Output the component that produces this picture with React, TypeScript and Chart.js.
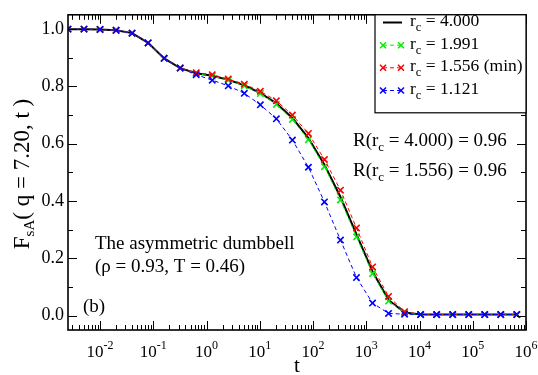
import React, { useEffect, useRef } from "react";
import { Chart, registerables } from "chart.js";

Chart.register(...registerables);

// Time grid (each step doubles t)
const times = [
  0.0025, 0.005, 0.01, 0.02, 0.04, 0.08, 0.16, 0.32, 0.64, 1.28, 2.56, 5.12,
  10.24, 20.48, 40.96, 81.92, 163.84, 327.68, 655.36, 1310.72, 2621.44,
  5242.88, 10485.76, 20971.52, 41943.04, 83886.08, 167772.16, 335544.32,
  671088.64,
];

// F_sA(q, t) for each cut-off radius r_c
const fsRc4000 = [
  1.0, 1.0, 0.999, 0.996, 0.986, 0.952, 0.898, 0.864, 0.846, 0.837, 0.823,
  0.804, 0.777, 0.741, 0.69, 0.62, 0.527, 0.414, 0.284, 0.154, 0.055, 0.011,
  0.004, 0.004, 0.004, 0.004, 0.004, 0.004, 0.004,
];
const fsRc1991 = [
  1.0, 1.0, 0.999, 0.996, 0.986, 0.952, 0.898, 0.864, 0.845, 0.836, 0.822,
  0.802, 0.775, 0.737, 0.685, 0.614, 0.52, 0.404, 0.275, 0.147, 0.051, 0.01,
  0.004, 0.004, 0.004, 0.004, 0.004, 0.004, 0.004,
];
const fsRc1556 = [
  1.0, 1.0, 0.999, 0.996, 0.986, 0.952, 0.898, 0.864, 0.848, 0.841, 0.826,
  0.808, 0.783, 0.75, 0.7, 0.636, 0.545, 0.438, 0.306, 0.17, 0.067, 0.014,
  0.004, 0.004, 0.004, 0.004, 0.004, 0.004, 0.004,
];
const fsRc1121 = [
  1.0, 1.0, 0.999, 0.996, 0.986, 0.952, 0.898, 0.864, 0.841, 0.822, 0.802,
  0.776, 0.736, 0.687, 0.613, 0.518, 0.397, 0.264, 0.133, 0.044, 0.008,
  0.005, 0.004, 0.004, 0.004, 0.004, 0.004, 0.004, 0.004,
];

const seriesLabels = ["4.000", "1.991", "1.556 (min)", "1.121"];
const seriesColors = ["#000000", "#00ee00", "#ff0000", "#0000ff"];

const yTicks = [0, 0.2, 0.4, 0.6, 0.8, 1.0];
const yMinorTicks = [0.1, 0.3, 0.5, 0.7, 0.9];
const xDecades = [-2, -1, 0, 1, 2, 3, 4, 5, 6];

const SERIF = "'Liberation Serif', 'Times New Roman', serif";

type Part = { text: string; size: number; dy?: number };

function richWidth(ctx: CanvasRenderingContext2D, parts: Part[]) {
  let w = 0;
  for (const p of parts) {
    ctx.font = `${p.size}px ${SERIF}`;
    w += ctx.measureText(p.text).width;
  }
  return w;
}

function drawRich(
  ctx: CanvasRenderingContext2D,
  parts: Part[],
  x: number,
  y: number,
  align: "left" | "center" = "left"
) {
  let cx = align === "center" ? x - richWidth(ctx, parts) / 2 : x;
  ctx.textAlign = "left";
  ctx.textBaseline = "alphabetic";
  for (const p of parts) {
    ctx.font = `${p.size}px ${SERIF}`;
    ctx.fillText(p.text, cx, y + (p.dy || 0));
    cx += ctx.measureText(p.text).width;
  }
}

function drawCross(ctx: CanvasRenderingContext2D, x: number, y: number, r: number) {
  ctx.beginPath();
  ctx.moveTo(x - r, y - r);
  ctx.lineTo(x + r, y + r);
  ctx.moveTo(x + r, y - r);
  ctx.lineTo(x - r, y + r);
  ctx.stroke();
}

const decorPlugin = {
  id: "decor",
  afterDraw(chart: any) {
    const ctx: CanvasRenderingContext2D = chart.ctx;
    const { left, right, top, bottom } = chart.chartArea;
    const xs = chart.scales.x;
    const ys = chart.scales.y;
    ctx.save();
    ctx.fillStyle = "#000";
    ctx.strokeStyle = "#000";

    // frame
    ctx.lineWidth = 1.6;
    ctx.setLineDash([]);
    ctx.strokeRect(left, top, right - left, bottom - top);

    // ticks on all four sides, pointing inward
    ctx.lineWidth = 1;
    const major = 9;
    const minor = 5;
    ctx.beginPath();
    for (const v of yTicks) {
      const py = Math.round(ys.getPixelForValue(v)) + 0.5;
      ctx.moveTo(left, py);
      ctx.lineTo(left + major, py);
      ctx.moveTo(right, py);
      ctx.lineTo(right - major, py);
    }
    for (const v of yMinorTicks) {
      const py = Math.round(ys.getPixelForValue(v)) + 0.5;
      ctx.moveTo(left, py);
      ctx.lineTo(left + minor, py);
      ctx.moveTo(right, py);
      ctx.lineTo(right - minor, py);
    }
    for (let d = -3; d <= 6; d++) {
      for (let k = 1; k <= 9; k++) {
        const v = k * Math.pow(10, d);
        if (v < xs.min * 0.999 || v > xs.max * 1.001) continue;
        const px = Math.round(xs.getPixelForValue(v)) + 0.5;
        const len = k === 1 ? major : minor;
        ctx.moveTo(px, bottom);
        ctx.lineTo(px, bottom - len);
        ctx.moveTo(px, top);
        ctx.lineTo(px, top + len);
      }
    }
    ctx.stroke();

    // x tick labels: powers of ten
    for (const d of xDecades) {
      const px = xs.getPixelForValue(Math.pow(10, d));
      drawRich(
        ctx,
        [
          { text: "10", size: 17 },
          { text: d < 0 ? "-" + Math.abs(d) : String(d), size: 12, dy: -8 },
        ],
        px,
        357,
        "center"
      );
    }

    // axis titles
    ctx.font = `21px ${SERIF}`;
    ctx.textAlign = "center";
    ctx.fillText("t", (left + right) / 2, 372);

    ctx.save();
    ctx.translate(29, 174);
    ctx.rotate(-Math.PI / 2);
    drawRich(
      ctx,
      [
        { text: "F", size: 23 },
        { text: "sA", size: 15, dy: 5 },
        { text: "( q = 7.20, t )", size: 23 },
      ],
      0,
      0,
      "center"
    );
    ctx.restore();

    // legend
    const lx = 375;
    const ly = top;
    const lw = right - lx;
    const lh = 98;
    ctx.fillStyle = "#fff";
    ctx.fillRect(lx, ly, lw, lh);
    ctx.lineWidth = 1.2;
    ctx.strokeRect(lx, ly, lw, lh);
    const rowBase = [26, 48.7, 71.3, 94];
    seriesLabels.forEach((lab, i) => {
      const base = rowBase[i];
      const cy = base - 3.5;
      ctx.strokeStyle = seriesColors[i];
      ctx.fillStyle = "#000";
      if (i === 0) {
        ctx.lineWidth = 2;
        ctx.setLineDash([]);
        ctx.beginPath();
        ctx.moveTo(383, cy);
        ctx.lineTo(402, cy);
        ctx.stroke();
      } else {
        ctx.lineWidth = 1;
        ctx.setLineDash([4, 3]);
        ctx.beginPath();
        ctx.moveTo(383, cy);
        ctx.lineTo(401, cy);
        ctx.stroke();
        ctx.setLineDash([]);
        ctx.lineWidth = 1.5;
        drawCross(ctx, 383, cy, 3);
        drawCross(ctx, 401, cy, 3);
      }
      ctx.fillStyle = "#000";
      drawRich(
        ctx,
        [
          { text: "r", size: 17.5 },
          { text: "c", size: 12.5, dy: 5 },
          { text: " = " + lab, size: 17.5 },
        ],
        410,
        base
      );
    });

    // annotations
    ctx.fillStyle = "#000";
    drawRich(
      ctx,
      [
        { text: "R(r", size: 19 },
        { text: "c", size: 13, dy: 5 },
        { text: " = 4.000) = 0.96", size: 19 },
      ],
      353,
      146
    );
    drawRich(
      ctx,
      [
        { text: "R(r", size: 19 },
        { text: "c", size: 13, dy: 5 },
        { text: " = 1.556) = 0.96", size: 19 },
      ],
      353,
      176
    );
    drawRich(ctx, [{ text: "The asymmetric dumbbell", size: 19 }], 95, 249);
    drawRich(ctx, [{ text: "(\u03c1 = 0.93, T = 0.46)", size: 19 }], 95, 272);
    drawRich(ctx, [{ text: "(b)", size: 19 }], 83, 312);

    ctx.restore();
  },
};

function toPoints(vals: number[]) {
  return times.map((t, i) => ({ x: t, y: vals[i] }));
}

export default function App() {
  const canvasRef = useRef<HTMLCanvasElement | null>(null);

  useEffect(() => {
    const canvas = canvasRef.current;
    if (!canvas) return;
    const dashed = (color: string, order: number, vals: number[]) => ({
      data: toPoints(vals),
      borderColor: color,
      backgroundColor: color,
      borderWidth: 1,
      borderDash: [4, 3],
      pointStyle: "crossRot",
      pointRadius: 4.5,
      pointBorderWidth: 1.6,
      pointBorderColor: color,
      fill: false,
      tension: 0,
      order,
    });
    const chart = new Chart(canvas, {
      type: "line",
      data: {
        datasets: [
          {
            data: toPoints(fsRc4000),
            borderColor: seriesColors[0],
            borderWidth: 2,
            pointRadius: 0,
            fill: false,
            tension: 0,
            order: 3,
          },
          dashed(seriesColors[1], 2, fsRc1991),
          dashed(seriesColors[2], 1, fsRc1556),
          dashed(seriesColors[3], 0, fsRc1121),
        ] as any,
      },
      options: {
        animation: false,
        responsive: false,
        devicePixelRatio: 1,
        layout: { padding: { left: 0, top: 8, right: 12, bottom: 0 } },
        plugins: { legend: { display: false }, tooltip: { enabled: false } },
        scales: {
          x: {
            type: "logarithmic",
            min: 0.0025,
            max: 1e6,
            ticks: { display: false },
            grid: { display: false, drawTicks: false },
            border: { display: false },
            afterFit: (s: any) => {
              s.height = 45;
            },
          },
          y: {
            type: "linear",
            min: -0.05,
            max: 1.05,
            afterBuildTicks: (s: any) => {
              s.ticks = yTicks.map((v) => ({ value: v }));
            },
            ticks: {
              padding: 4,
              color: "#000",
              font: { family: SERIF, size: 18 },
              callback: (v: any) => Number(v).toFixed(1),
            },
            grid: { display: false, drawTicks: false },
            border: { display: false },
            afterFit: (s: any) => {
              s.width = 68;
            },
          },
        },
      } as any,
      plugins: [decorPlugin],
    });
    return () => chart.destroy();
  }, []);

  return (
    <div style={{ position: "absolute", left: 0, top: 0, width: 538, height: 375, background: "#fff" }}>
      <canvas ref={canvasRef} width={538} height={375} />
    </div>
  );
}
